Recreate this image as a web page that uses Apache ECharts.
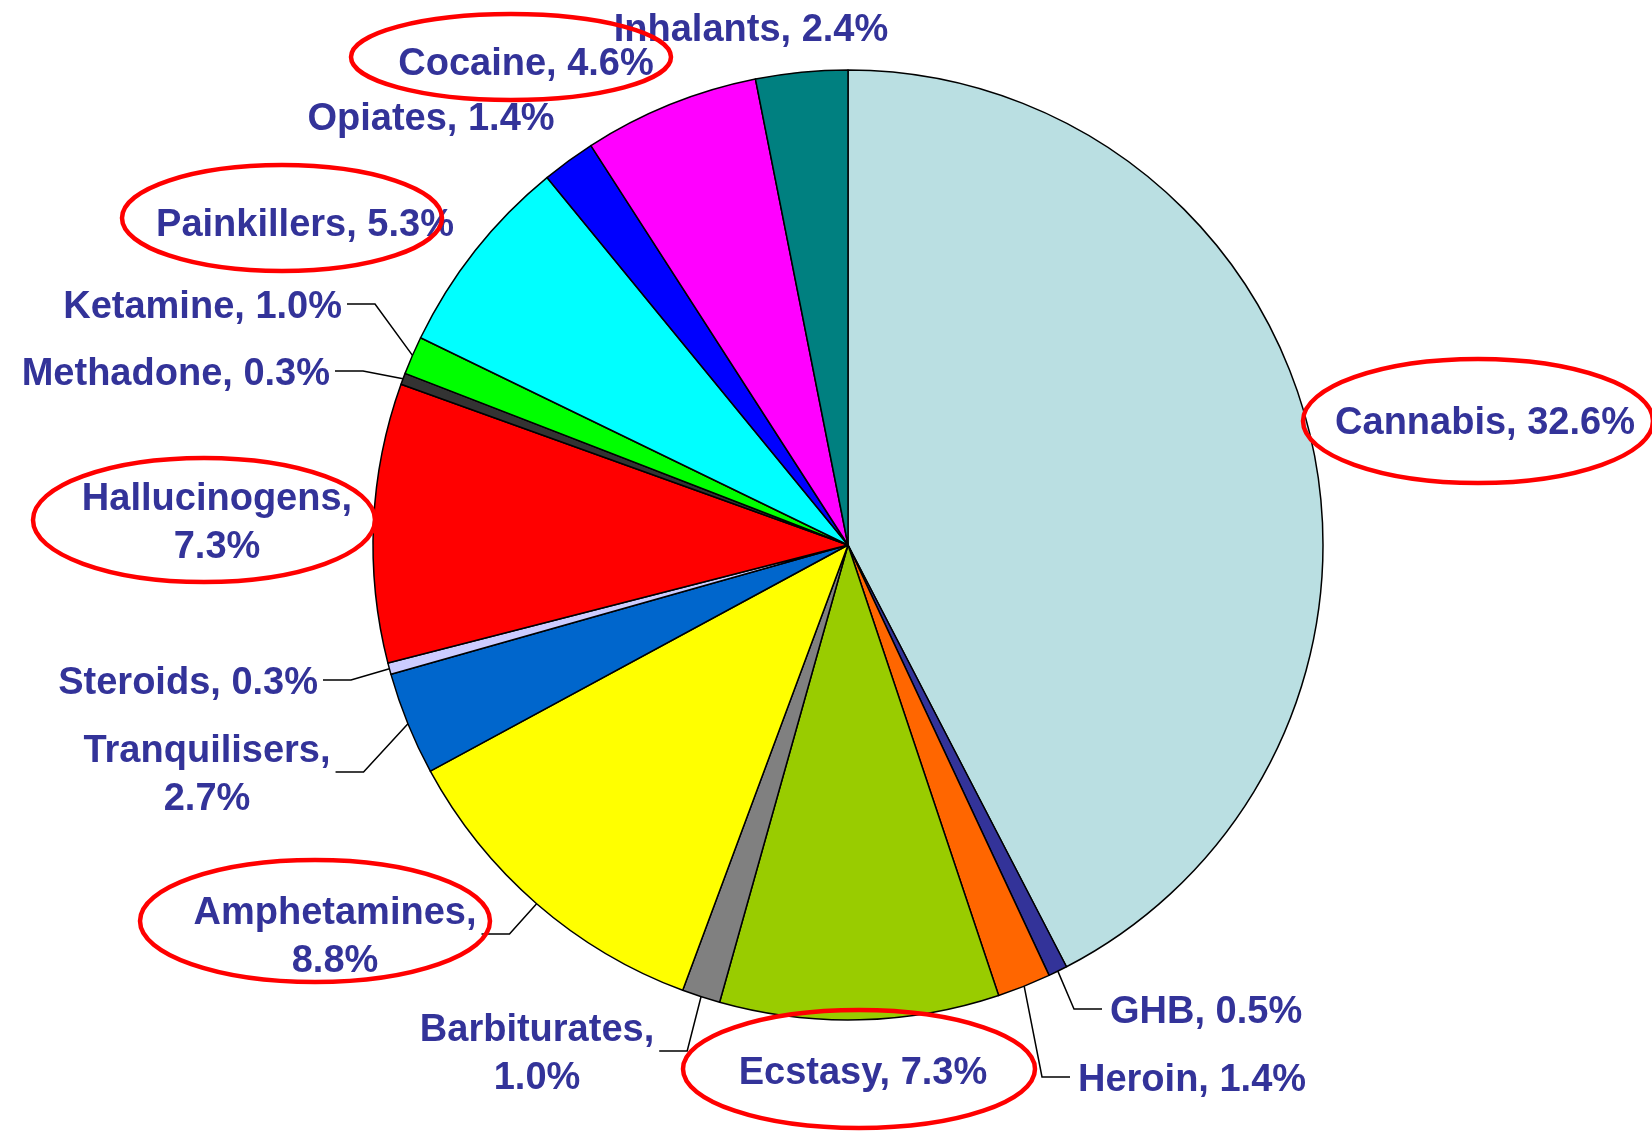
<!DOCTYPE html>
<html>
<head>
<meta charset="utf-8">
<script src="https://cdn.jsdelivr.net/npm/echarts@6/dist/echarts.min.js"></script>
<style>
	html, body { margin: 0; padding: 0; background: #fff; }
	#drug-pie { width: 1652px; height: 1131px; }
</style>
</head>
<body>
<div id="drug-pie"></div>
<script>
// slices, clockwise from 12 o'clock
const categories = ['Cannabis', 'GHB', 'Heroin', 'Ecstasy', 'Barbiturates', 'Amphetamines', 'Tranquilisers',
	'Steroids', 'Hallucinogens', 'Methadone', 'Ketamine', 'Painkillers', 'Opiates', 'Cocaine', 'Inhalants'];
const values = [32.6, 0.5, 1.4, 7.3, 1.0, 8.8, 2.7, 0.3, 7.3, 0.3, 1.0, 5.3, 1.4, 4.6, 2.4];

// styling
const colors = ['#BADFE2', '#333399', '#FF6600', '#99CC00', '#808080', '#FFFF00', '#0066CC',
	'#CCCCFF', '#FF0000', '#333333', '#00FF00', '#00FFFF', '#0000FF', '#FF00FF', '#008080'];
const twoLine = ['Barbiturates', 'Amphetamines', 'Tranquilisers', 'Hallucinogens'];
const withLeader = ['GHB', 'Heroin', 'Barbiturates', 'Amphetamines', 'Tranquilisers', 'Steroids', 'Methadone', 'Ketamine'];
// label anchors [x, y, align], same order as categories
const labelPos = [
	[1485, 420, 'center'], [1110, 1009, 'left'], [1078, 1077, 'left'], [863, 1070, 'center'],
	[537, 1051, 'center'], [335, 934, 'center'], [207, 772, 'center'], [318, 680, 'right'],
	[217, 520, 'center'], [330, 371, 'right'], [342, 304, 'right'], [305, 222, 'center'],
	[431, 116, 'center'], [526, 61, 'center'], [751, 27, 'center'],
];
const textNudge = 4; // glyphs sit a bit low in the original
// red rings drawn round some labels [cx, cy, rx, ry]
const rings = [
	[511, 57, 160, 43], [282, 218, 160, 53], [204, 520, 171, 62],
	[315, 921, 175, 61], [859, 1069, 176, 59], [1478, 421, 175, 62],
];

var chartDom = document.getElementById('drug-pie');
var myChart = echarts.init(chartDom);

let pieData = categories.map((name, i) => {
	return {
		name: name,
		value: values[i],
		itemStyle: { color: colors[i] },
		labelLine: { show: withLeader.indexOf(name) > -1 },
	};
});

var option = {
	animation: false,
	backgroundColor: '#ffffff',
	series: [
		{
			type: 'pie',
			center: [848, 545],
			radius: 475,
			startAngle: 90,
			clockwise: true,
			avoidLabelOverlap: false,
			data: pieData,
			itemStyle: {
				borderColor: '#000000',
				borderWidth: 1.5,
			},
			label: {
				show: true,
				position: 'outside',
				color: '#333399',
				fontFamily: '"Liberation Sans", Arial, sans-serif',
				fontWeight: 'bold',
				fontSize: 38,
				lineHeight: 48,
				overflow: 'none',
				formatter: function(p) {
					let sep = twoLine.indexOf(p.name) > -1 ? ',\n' : ', ';
					return p.name + sep + p.value.toFixed(1) + '%';
				},
			},
			labelLine: {
				length: 0,
				length2: 0,
				smooth: false,
				lineStyle: { color: '#000000', width: 1.5 },
			},
			labelLayout: function(params) {
				let i = params.dataIndex;
				let p = labelPos[i];
				let out = { x: p[0], y: p[1] + textNudge, align: p[2], verticalAlign: 'middle' };
				if (withLeader.indexOf(categories[i]) > -1 && params.labelLinePoints) {
					let endX;
					if (p[2] == 'right') {
						endX = p[0] + 5;
					} else if (p[2] == 'left') {
						endX = p[0] - 8;
					} else {
						endX = p[0] + params.labelRect.width / 2 + 5;
					}
					let dir = p[2] == 'left' ? -1 : 1;
					out.labelLinePoints = [
						params.labelLinePoints[0],
						[endX + dir * 28, p[1]],
						[endX, p[1]],
					];
				}
				return out;
			},
			emphasis: { disabled: true },
		},
	],
	graphic: rings.map((r) => {
		return {
			type: 'ellipse',
			z: 100,
			shape: { cx: r[0], cy: r[1], rx: r[2], ry: r[3] },
			style: { fill: null, stroke: '#FF0000', lineWidth: 4.5 },
		};
	}),
};
option && myChart.setOption(option);
</script>
</body>
</html>
